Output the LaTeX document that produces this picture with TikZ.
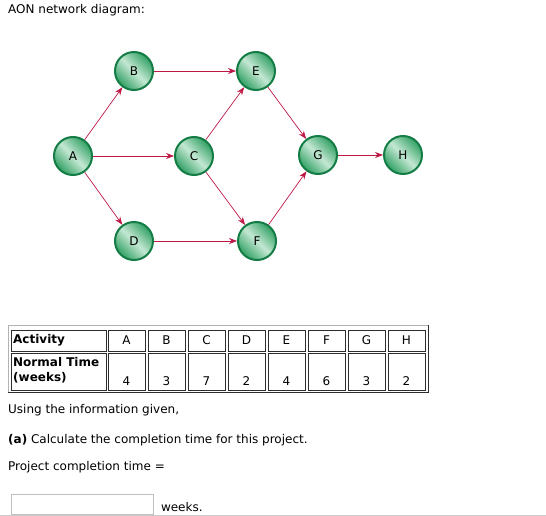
\documentclass[tikz,border=0pt]{standalone}
\usepackage{fontspec}
\setmainfont{DejaVu Sans}
\usetikzlibrary{arrows.meta}
\usetikzlibrary{positioning}
\definecolor{linkred}{RGB}{190,25,70}
\definecolor{ballgreen}{RGB}{50,160,100}
\definecolor{ballshine}{RGB}{195,232,210}
\definecolor{rimgreen}{RGB}{20,125,70}
\definecolor{cellline}{RGB}{45,45,45}

\begin{document}
\begin{tikzpicture}[x=1pt,y=-1pt,
    act/.style={circle, minimum size=38pt, inner sep=0pt, shading=axis,
      left color=ballgreen, right color=ballgreen, middle color=ballshine, shading angle=135,
      draw=rimgreen, line width=2pt, font=\fontsize{12}{14}\selectfont},
    link/.style={-{Stealth[length=8pt,width=6pt]}, draw=linkred, line width=0.7pt},
    cell/.style={draw=cellline, line width=0.8pt, inner sep=0pt},
    txt/.style={anchor=west, inner sep=0pt, font=\fontsize{12}{14}\selectfont}]
    \useasboundingbox (0,0) rectangle (546,516);

    % Title
    \node[txt] (title) at (8,10) {AON network diagram:};

    % Activities
    \node[act] (A) at (73,156) {A};
    \node[act] (B) at (134,71) {B};
    \node[act] (C) at (194,156) {C};
    \node[act] (D) at (134,241) {D};
    \node[act] (E) at (256,71) {E};
    \node[act] (F) at (257,241) {F};
    \node[act] (G) at (318,155) {G};
    \node[act] (H) at (403,155) {H};

    \draw[link] (A) -- (B);
    \draw[link] (A) -- (C);
    \draw[link] (A) -- (D);
    \draw[link] (B) -- (E);
    \draw[link] (C) -- (E);
    \draw[link] (C) -- (F);
    \draw[link] (D) -- (F);
    \draw[link] (E) -- (G);
    \draw[link] (F) -- (G);
    \draw[link] (G) -- (H);

    % Table frame
    \draw[gray!60, line width=0.8pt] (8,392) -- (8,325) -- (428,325);
    \draw[cellline, line width=0.8pt] (428,325) -- (428,392) -- (8,392);

    % Table cells
    \node[cell, minimum width=94.5pt, minimum height=21pt] (act) at (58.75,340.5) {};
    \node[cell, minimum width=94.5pt, minimum height=36.5pt] (time) at (58.75,372) {};
    \node[txt, font=\fontsize{12}{14}\selectfont\bfseries] (actlbl) at (13,340.5) {Activity};
    \node[txt, font=\fontsize{12}{15}\selectfont\bfseries, align=left] (timelbl) at (13,370) {Normal Time\\(weeks)};
    \foreach \name/\weeks [count=\i from 0] in {A/4,B/3,C/7,D/2,E/4,F/6,G/3,H/2} {
        \node[cell, minimum width=37pt, minimum height=21pt] (a\i) at (126.5+40*\i,340.5) {};
        \node[cell, minimum width=37pt, minimum height=36.5pt] (n\i) at (126.5+40*\i,372) {};
        \node[font=\fontsize{12}{14}\selectfont, inner sep=0pt] at (a\i) {\name};
        \node[font=\fontsize{12}{14}\selectfont, inner sep=0pt, above=5pt] at (n\i.south) {\weeks};
    }

    % Question
    \node[txt] (intro) at (8,410) {Using the information given,};
    \node[txt] (parta) at (8,440) {\textbf{(a)} Calculate the completion time for this project.};
    \node[txt] (answer) at (8,467) {Project completion time =};
    \node[draw=gray!50, line width=0.8pt, minimum width=142pt, minimum height=20pt,
      anchor=north west] (box) at (11,494) {};
    \node[txt, right=7pt of box.east, yshift=-3pt] (unit) {weeks.};
    \draw[gray!40, line width=1pt] (0,515.5) -- (546,515.5);
\end{tikzpicture}
\end{document}
